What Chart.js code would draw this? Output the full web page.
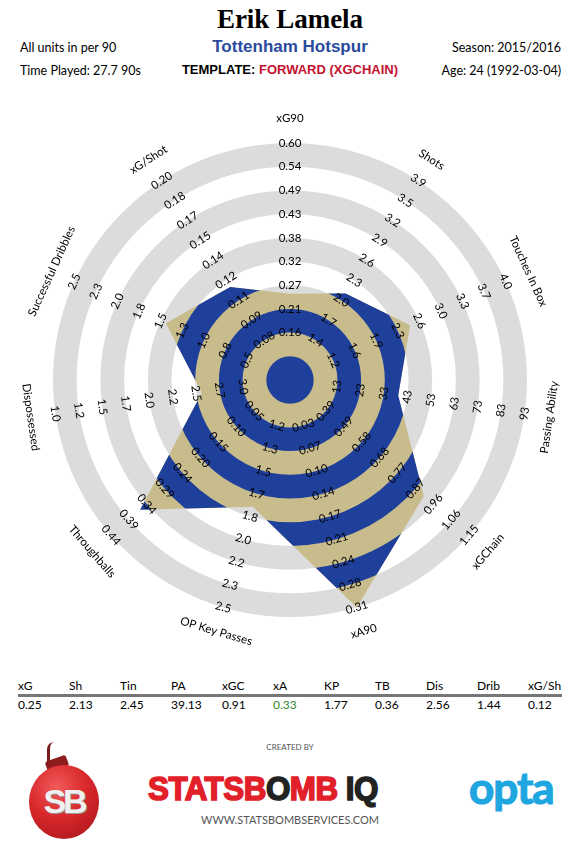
<!DOCTYPE html>
<html>
<head>
<meta charset="utf-8">
<script src="https://cdn.jsdelivr.net/npm/chart.js@4.4.0/dist/chart.umd.min.js"></script>
<style>
  body { margin: 0; background: #fff; font-family: Lato, "Open Sans", sans-serif; }
  #page { position: relative; width: 580px; height: 850px; overflow: hidden; }
  .txt { position: absolute; white-space: nowrap; color: #000; }
  #radar { position: absolute; left: 0; top: 100px; }
  table.stats { position: absolute; left: 18px; top: 678px; border-collapse: collapse; font-size: 12px; }
  table.stats td { padding: 0; width: 51px; }
  table.stats tr.head td { border-bottom: 3px solid #777; padding-bottom: 1px; }
  table.stats td:last-child { width: 34px; }
</style>
</head>
<body>
<div id="page">
  <div class="txt" style="left:0;width:580px;text-align:center;top:4px;font:bold 27px 'Liberation Serif',serif;">Erik Lamela</div>
  <div class="txt" style="left:20px;top:40px;font-size:12.5px;">All units in per 90</div>
  <div class="txt" style="left:20px;top:63px;font-size:12.5px;">Time Played: 27.7 90s</div>
  <div class="txt" style="left:0;width:580px;text-align:center;top:37px;font:bold 17px 'Liberation Sans',Arial,sans-serif;color:#2a4a9c;">Tottenham Hotspur</div>
  <div class="txt" style="left:0;width:580px;text-align:center;top:62px;font:bold 13px 'Liberation Sans',Arial,sans-serif;">TEMPLATE: <span style="color:#c4122f;">FORWARD (XGCHAIN)</span></div>
  <div class="txt" style="right:19px;top:40px;font-size:12.5px;">Season: 2015/2016</div>
  <div class="txt" style="right:19px;top:63px;font-size:12.5px;">Age: 24 (1992-03-04)</div>

  <canvas id="radar" width="580" height="560"></canvas>

  <table class="stats" id="stats"></table>

  <!-- footer logos -->
  <div style="position:absolute;left:47px;top:742px;width:4px;height:22px;border-left:3px solid #7a1a1a;border-radius:8px 0 0 0;"></div>
  <div style="position:absolute;left:46px;top:758px;width:22px;height:12px;background:#8e1c1c;border-radius:3px;transform:rotate(-20deg);"></div>
  <div style="position:absolute;left:29px;top:765px;width:70px;height:74px;border-radius:50%;background:radial-gradient(circle at 40% 30%, #f25a5a 0%, #d8282b 45%, #a3141a 100%);"></div>
  <div class="txt" style="left:29px;top:782px;width:70px;text-align:center;font:bold 34px 'Liberation Sans',Arial,sans-serif;color:#f0f0f0;letter-spacing:-3px;text-shadow:1px 1px 0 #999;">SB</div>

  <div class="txt" style="left:0;width:580px;text-align:center;top:742px;font-size:8px;color:#555;">CREATED BY</div>
  <div class="txt" style="left:148px;top:770px;font:bold 33px 'Liberation Sans',Arial,sans-serif;color:#e2202a;-webkit-text-stroke:1.6px #e2202a;letter-spacing:-0.5px;transform:scaleX(0.95);transform-origin:left;">STATSB<span style="color:#222;-webkit-text-stroke:1.6px #222;">O</span>MB <span style="color:#222;-webkit-text-stroke:1.6px #222;">IQ</span></div>
  <div class="txt" style="left:0;width:580px;text-align:center;top:813px;font-size:11px;color:#555;">WWW.STATSBOMBSERVICES.COM</div>
  <div class="txt" style="left:469px;top:761px;font:bold 44px Lato,'Open Sans',sans-serif;color:#1ea6e0;-webkit-text-stroke:1.2px #1ea6e0;letter-spacing:-1px;">opta</div>
</div>

<script>
// axes, clockwise from the top
const axisNames = ['xG90', 'Shots', 'Touches In Box', 'Passing Ability', 'xGChain', 'xA90',
    'OP Key Passes', 'Throughballs', 'Dispossessed', 'Successful Dribbles', 'xG/Shot'];
const shortNames = ['xG', 'Sh', 'Tin', 'PA', 'xGC', 'xA', 'KP', 'TB', 'Dis', 'Drib', 'xG/Sh'];
const playerValues = [0.25, 2.13, 2.45, 39.13, 0.91, 0.33, 1.77, 0.36, 2.56, 1.44, 0.12];
const shownValues = ['0.25', '2.13', '2.45', '39.13', '0.91', '0.33', '1.77', '0.36', '2.56', '1.44', '0.12'];

// value at the centre and at the outer ring of each axis
const axisLow = [0.05, 0.775, 0.5, -7, 0.2, -0.04, 0.85, -0.05, 3.5, 0.0, 0.05];
const axisHigh = [0.60, 3.9, 4.0, 93, 1.15, 0.31, 2.5, 0.44, 1.0, 2.5, 0.20];

// tick labels on rings 2..10
const tickLabels = [
    ['0.16', '0.21', '0.27', '0.32', '0.38', '0.43', '0.49', '0.54', '0.60'],
    ['1.4', '1.7', '2.0', '2.3', '2.6', '2.9', '3.2', '3.5', '3.9'],
    ['1.2', '1.6', '1.9', '2.3', '2.6', '3.0', '3.3', '3.7', '4.0'],
    ['13', '23', '33', '43', '53', '63', '73', '83', '93'],
    ['0.39', '0.49', '0.58', '0.68', '0.77', '0.87', '0.96', '1.06', '1.15'],
    ['0.03', '0.07', '0.10', '0.14', '0.17', '0.21', '0.24', '0.28', '0.31'],
    ['1.2', '1.3', '1.5', '1.7', '1.8', '2.0', '2.2', '2.3', '2.5'],
    ['0.05', '0.10', '0.15', '0.20', '0.24', '0.29', '0.34', '0.39', '0.44'],
    ['3.0', '2.7', '2.5', '2.2', '2.0', '1.7', '1.5', '1.2', '1.0'],
    ['0.5', '0.8', '1.0', '1.3', '1.5', '1.8', '2.0', '2.3', '2.5'],
    ['0.08', '0.09', '0.11', '0.12', '0.14', '0.15', '0.17', '0.18', '0.20']
];

const blue = '#1e3f9a';
const khaki = '#c8bc8c';
const ringGrey = '#dcdcdc';
const labelFont = '11.5px Lato, "Open Sans", sans-serif';

const buildTable = () => {
    let head = '<tr class="head">';
    let vals = '<tr>';
    for (let i = 0; i < shortNames.length; i++) {
        head += '<td>' + shortNames[i] + '</td>';
        let col = i === 5 ? ' style="color:#2e8b2e"' : '';
        vals += '<td' + col + '>' + shownValues[i] + '</td>';
    }
    document.getElementById('stats').innerHTML = head + '</tr>' + vals + '</tr>';
}

const toRing = (v, i) => {
    let k = (v - axisLow[i]) / (axisHigh[i] - axisLow[i]) * 10;
    return Math.max(0, Math.min(10, k));
}

// rotate text so it sits across its spoke, flipped on the lower half
const textAngle = (angle) => {
    let deg = angle * 180 / Math.PI;
    if (deg > 90 && deg < 270) return angle - Math.PI;
    return angle;
}

const radarArt = {
    id: 'radarArt',
    beforeDatasetsDraw(chart) {
        const ctx = chart.ctx;
        const scale = chart.scales.r;
        const cx = scale.xCenter, cy = scale.yCenter;
        const rad = (k) => scale.getDistanceFromCenterForValue(k);

        // grey rings behind the shape
        ctx.save();
        for (let k = 1; k < 10; k += 2) {
            ctx.beginPath();
            ctx.arc(cx, cy, rad(k + 1), 0, Math.PI * 2);
            ctx.arc(cx, cy, rad(k), 0, Math.PI * 2, true);
            ctx.fillStyle = ringGrey;
            ctx.fill();
        }
        ctx.restore();

        // player shape, striped
        const pts = chart.getDatasetMeta(0).data;
        ctx.save();
        ctx.beginPath();
        pts.forEach((p, i) => i === 0 ? ctx.moveTo(p.x, p.y) : ctx.lineTo(p.x, p.y));
        ctx.closePath();
        ctx.clip();
        ctx.fillStyle = khaki;
        ctx.fillRect(0, 0, chart.width, chart.height);
        for (let k = 0; k < 10; k += 2) {
            ctx.beginPath();
            ctx.arc(cx, cy, rad(k + 1), 0, Math.PI * 2);
            if (k > 0) ctx.arc(cx, cy, rad(k), 0, Math.PI * 2, true);
            ctx.fillStyle = blue;
            ctx.fill();
        }
        ctx.restore();
    },
    afterDatasetsDraw(chart) {
        const ctx = chart.ctx;
        const scale = chart.scales.r;
        ctx.save();
        ctx.fillStyle = '#000';
        ctx.font = labelFont;
        ctx.textAlign = 'center';
        ctx.textBaseline = 'middle';
        for (let i = 0; i < axisNames.length; i++) {
            const rot = textAngle(scale.getIndexAngle(i));
            for (let t = 0; t < tickLabels[i].length; t++) {
                const p = scale.getPointPositionForValue(i, t + 2);
                ctx.save();
                ctx.translate(p.x, p.y);
                ctx.rotate(rot);
                ctx.fillText(tickLabels[i][t], 0, 0);
                ctx.restore();
            }
            const q = scale.getPointPositionForValue(i, 11.05);
            ctx.save();
            ctx.translate(q.x, q.y);
            ctx.rotate(rot);
            ctx.fillText(axisNames[i], 0, 0);
            ctx.restore();
        }
        ctx.restore();
    }
};

document.addEventListener('DOMContentLoaded', function () {
    buildTable();
    new Chart(document.getElementById('radar'), {
        type: 'radar',
        data: {
            labels: axisNames,
            datasets: [{
                data: playerValues.map(toRing),
                backgroundColor: 'rgba(0,0,0,0)',
                borderWidth: 0,
                pointRadius: 0
            }]
        },
        options: {
            responsive: false,
            animation: false,
            layout: { padding: { left: 53, right: 53, top: 43, bottom: 43 } },
            plugins: { legend: { display: false }, tooltip: { enabled: false } },
            scales: {
                r: {
                    min: 0,
                    max: 10,
                    ticks: { display: false },
                    grid: { display: false },
                    angleLines: { display: false },
                    pointLabels: { display: false }
                }
            }
        },
        plugins: [radarArt]
    });
});
</script>
</body>
</html>
